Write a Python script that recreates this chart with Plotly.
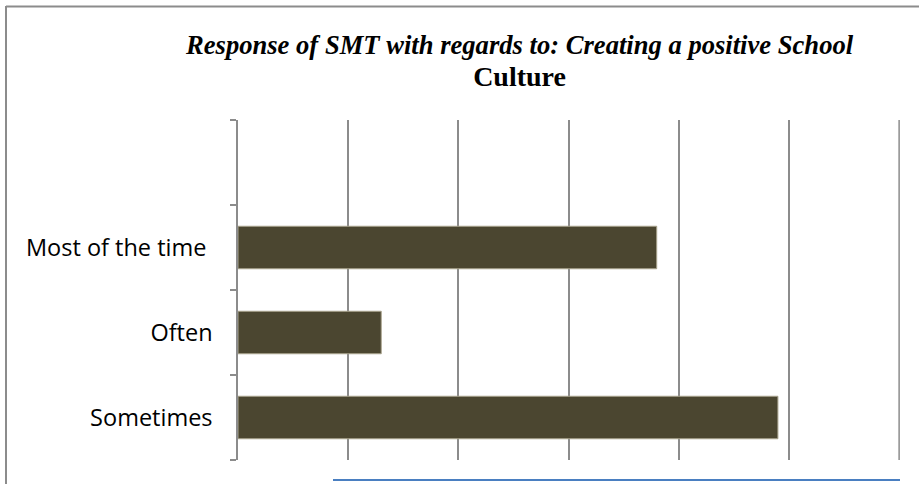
import plotly.graph_objects as go

categories = ["Sometimes", "Often", "Most of the time\u00a0", " "]
values = [49, 13, 38, None]
x_ticks = [0, 10, 20, 30, 40, 50, 60]

title_line1 = "Response of SMT with regards to: Creating a positive School"
title_line2 = "Culture"

W, H = 919, 484
L, R, T, B = 238, 19, 120, 24
pw, ph = W - L - R, H - T - B

def px_x(x):
    return (x - L) / pw

def px_y(y):
    return 1 - (y - T) / ph

fig = go.Figure()
fig.add_trace(go.Bar(
    y=categories, x=values, orientation="h", width=0.5,
    marker=dict(color="#4b4630", line=dict(color="#a8a38c", width=1)),
    showlegend=False, hoverinfo="x+y",
))

shapes = [
    dict(type="line", xref="paper", yref="paper",
         x0=px_x(6), x1=px_x(6), y0=px_y(6), y1=px_y(H + 5),
         line=dict(color="#8c8c8c", width=2)),
    dict(type="line", xref="paper", yref="paper",
         x0=px_x(6), x1=px_x(W + 5), y0=px_y(6.5), y1=px_y(6.5),
         line=dict(color="#8c8c8c", width=2)),
    dict(type="line", xref="paper", yref="paper",
         x0=px_x(333), x1=px_x(900), y0=px_y(480), y1=px_y(480),
         line=dict(color="#4a7fc1", width=2)),
    # last gridline at the range end (plotly omits it at the edge)
    dict(type="line", xref="x", yref="paper",
         x0=x_ticks[-1], x1=x_ticks[-1], y0=0, y1=1, layer="below",
         line=dict(color="#8c8c8c", width=1.5)),
]

title_text = (f'<span style="font-size:26.6px"><b><i>{title_line1}</i></b></span>'
              f'<br><span style="font-size:28px"><b>{title_line2}</b></span>')

fig.update_layout(
    width=W, height=H,
    margin=dict(l=L, r=R, t=T, b=B, pad=0),
    paper_bgcolor="white", plot_bgcolor="white",
    bargap=0.5,
    xaxis=dict(range=[0, 60.08], tickvals=x_ticks, showticklabels=False,
               showgrid=True, gridcolor="#8c8c8c", gridwidth=1.5,
               zeroline=False, showline=False, ticks=""),
    yaxis=dict(categoryorder="array", categoryarray=categories,
               showline=True, linecolor="#8c8c8c", linewidth=1.5,
               ticks="outside", tickson="boundaries", ticklen=6,
               tickcolor="#8c8c8c", tickwidth=1.5, showgrid=False,
               tickfont=dict(family="Open Sans", size=23.5, color="black"),
               ticklabelstandoff=19, range=[-0.5, 3.5]),
    shapes=shapes,
    annotations=[
        dict(xref="paper", yref="paper", x=px_x(519), y=px_y(61),
             xanchor="center", yanchor="middle", showarrow=False,
             align="center", text=title_text,
             font=dict(family="Liberation Serif", size=24.6, color="black")),
    ],
)

fig.write_html("out.html")
